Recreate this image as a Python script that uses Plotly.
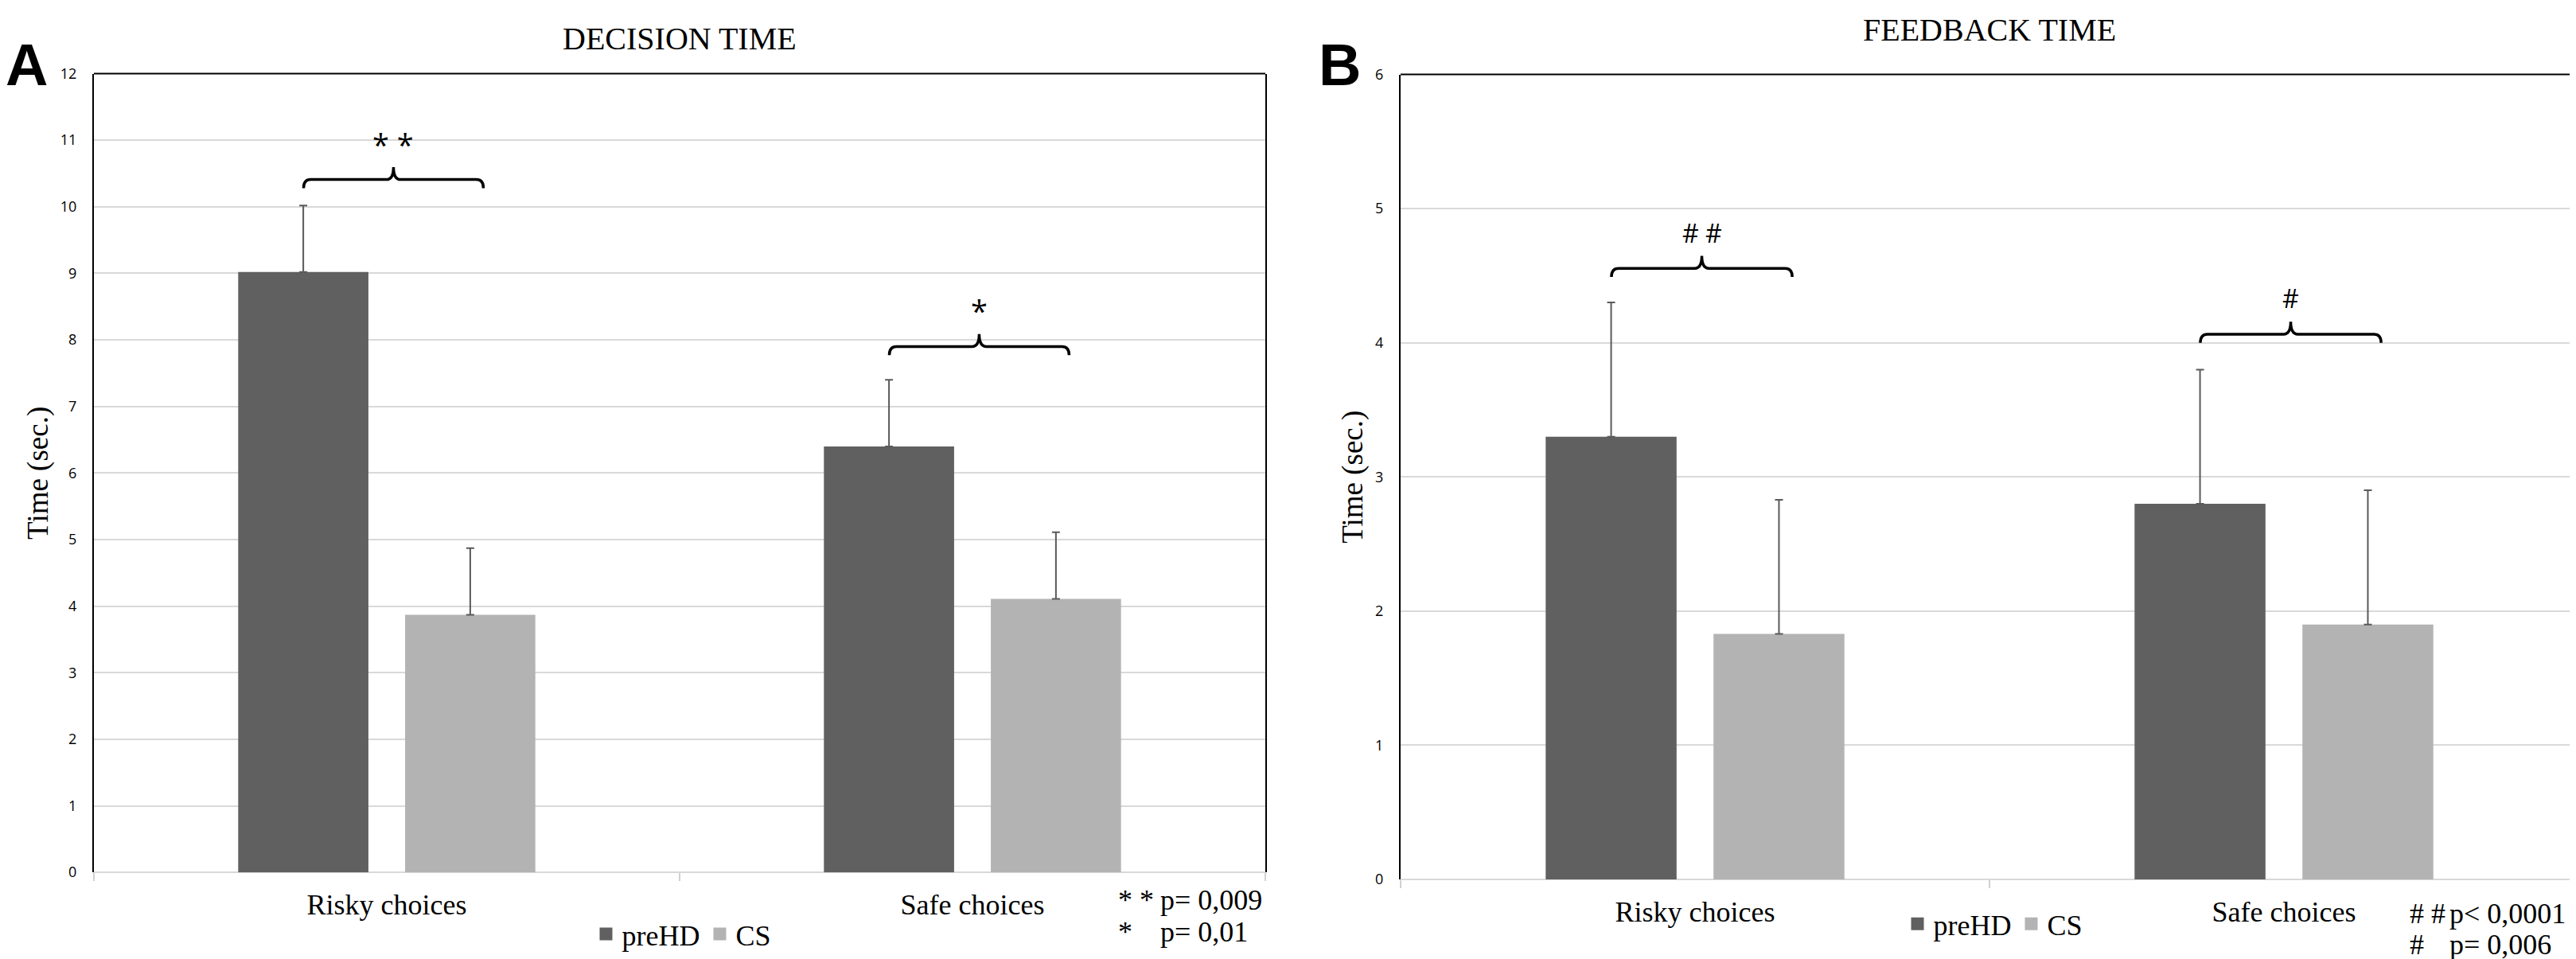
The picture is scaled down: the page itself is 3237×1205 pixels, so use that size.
import plotly.graph_objects as go

# data
categories = ['Risky choices', 'Safe choices']
groups = ['preHD', 'CS']

decision_prehd = [9.02, 6.40]
decision_cs = [3.87, 4.11]
decision_prehd_err = [1.0, 1.0]
decision_cs_err = [1.0, 1.0]

feedback_prehd = [3.30, 2.80]
feedback_cs = [1.83, 1.90]
feedback_prehd_err = [1.0, 1.0]
feedback_cs_err = [1.0, 1.0]

decision_sig = ['* *', '*']
decision_bracket_y = [10.28, 7.77]
feedback_sig = ['# #', '#']
feedback_bracket_y = [4.49, 4.00]

decision_notes = [('* *', 'p= 0,009'), ('*', 'p= 0,01')]
feedback_notes = [('# #', 'p< 0,0001'), ('#', 'p= 0,006')]

colors = ['#606060', '#b3b3b3']

W, H = 3237, 1205
SERIF = 'Liberation Serif'
SANS = 'Open Sans'


def px(x):
    return x / W


def py(y):
    return (H - y) / H


# plot areas in pixels (left, right, top, bottom)
boxA = (110, 1582, 73, 1097)
boxB = (1752, 3232, 74, 1106)

fig = go.Figure()

panels = [
    ('x', 'y', 'legend', [decision_prehd, decision_cs], [decision_prehd_err, decision_cs_err]),
    ('x2', 'y2', 'legend2', [feedback_prehd, feedback_cs], [feedback_prehd_err, feedback_cs_err]),
]
for xa, ya, lg, vals, errs in panels:
    for name, v, e, c in zip(groups, vals, errs, colors):
        fig.add_trace(go.Bar(
            x=categories, y=v, name=name, marker_color=c, marker_line_width=0,
            error_y=dict(type='data', array=e, arrayminus=[0] * len(e), symmetric=False,
                         color='#5a5a5a', thickness=2, width=5),
            xaxis=xa, yaxis=ya, showlegend=False, hoverinfo='skip'))
    for name, c in zip(groups, colors):
        fig.add_trace(go.Scatter(
            x=[None], y=[None], mode='markers', name=name,
            marker=dict(symbol='square', size=19, color=c),
            xaxis=xa, yaxis=ya, legend=lg))


def brace(xref, yref, x0, x1, yb, unit_px, cat_px):
    # curly bracket drawn in data units of the given axes
    dh = 11 / unit_px
    dp = 16 / unit_px
    c = 9 / cat_px
    xm = (x0 + x1) / 2
    yh = yb + dh
    yp = yh + dp
    path = (f'M {x0},{yb} Q {x0},{yh} {x0 + c},{yh} L {xm - c},{yh} '
            f'Q {xm},{yh} {xm},{yp} Q {xm},{yh} {xm + c},{yh} '
            f'L {x1 - c},{yh} Q {x1},{yh} {x1},{yb}')
    fig.add_shape(type='path', path=path, xref=xref, yref=yref,
                  line=dict(color='black', width=3.5))
    return xm, yp


specs = [
    ('x', 'y', boxA, 12, decision_sig, decision_bracket_y, 38, SANS),
    ('x2', 'y2', boxB, 6, feedback_sig, feedback_bracket_y, 32, SANS),
]
for xa, ya, box, ymax, sig, by, fs, fam in specs:
    unit_px = (box[3] - box[2]) / ymax
    cat_px = (box[1] - box[0]) / len(categories)
    for i, (s, yb) in enumerate(zip(sig, by)):
        xm, yp = brace(xa, ya, i - 0.142, i + 0.165, yb, unit_px, cat_px)
        fig.add_annotation(x=xm, y=yp + 30 / unit_px, xref=xa, yref=ya, text=s,
                           xanchor='center', yanchor='middle', showarrow=False,
                           font=dict(family=fam, size=fs, color='black'))
    # black top border
    fig.add_shape(type='line', xref=f'{xa} domain', yref=f'{ya} domain',
                  x0=0, x1=1, y0=1, y1=1, line=dict(color='black', width=2))

axis_common = dict(
    type='category', tickson='boundaries', ticks='outside', ticklen=10,
    tickcolor='#d0d0d0', tickwidth=2, showline=False, showgrid=False,
    tickfont=dict(family=SERIF, size=36, color='black'), ticklabelstandoff=16,
    fixedrange=True)
yaxis_common = dict(
    showline=True, linecolor='black', linewidth=2, mirror=True,
    showgrid=True, gridcolor='#d9d9d9', gridwidth=2, zeroline=True,
    zerolinecolor='#d9d9d9', zerolinewidth=2, ticks='', dtick=1,
    tickfont=dict(family=SANS, size=18, color='black'), ticklabelstandoff=16,
    title=dict(text='Time (sec.)', font=dict(family=SERIF, size=37, color='black'), standoff=4),
    fixedrange=True)

fig.update_layout(
    width=W, height=H, margin=dict(l=0, r=0, t=0, b=0),
    paper_bgcolor='white', plot_bgcolor='white',
    barmode='group', bargap=0.43, bargroupgap=0.22,
    xaxis=dict(domain=[px(boxA[0]), px(boxA[1])], anchor='y', **axis_common),
    yaxis=dict(domain=[py(boxA[3]), py(boxA[2])], anchor='x', range=[0, 12], **yaxis_common),
    xaxis2=dict(domain=[px(boxB[0]), px(boxB[1])], anchor='y2', **axis_common),
    yaxis2=dict(domain=[py(boxB[3]), py(boxB[2])], anchor='x2', range=[0, 6], **yaxis_common),
    legend=dict(orientation='h', x=px(850), y=py(1176), xanchor='center', yanchor='middle',
                font=dict(family=SERIF, size=36, color='black'), itemwidth=30,
                bgcolor='rgba(0,0,0,0)'),
    legend2=dict(orientation='h', x=px(2498), y=py(1163), xanchor='center', yanchor='middle',
                 font=dict(family=SERIF, size=36, color='black'), itemwidth=30,
                 bgcolor='rgba(0,0,0,0)'),
)


def note(x, y, text, size, family=SERIF, xanchor='center'):
    fig.add_annotation(x=px(x), y=py(y), xref='paper', yref='paper', text=text,
                       xanchor=xanchor, yanchor='middle', showarrow=False,
                       font=dict(family=family, size=size, color='black'))


# panel titles and letters
note(846, 28, 'DECISION TIME', 40)
note(2492, 17, 'FEEDBACK TIME', 40)
note(26, 62, '<b>A</b>', 74, family='Liberation Sans')
note(1676, 62, '<b>B</b>', 74, family='Liberation Sans')

# p-value notes
for notes, xs, xp, ys in [(decision_notes, 1395, 1448, [1133, 1173]),
                          (feedback_notes, 3018, 3068, [1150, 1190])]:
    for (sym, txt), yy in zip(notes, ys):
        note(xs, yy, sym, 36, xanchor='left')
        note(xp, yy, txt, 36, xanchor='left')

fig.write_html('out.html')
